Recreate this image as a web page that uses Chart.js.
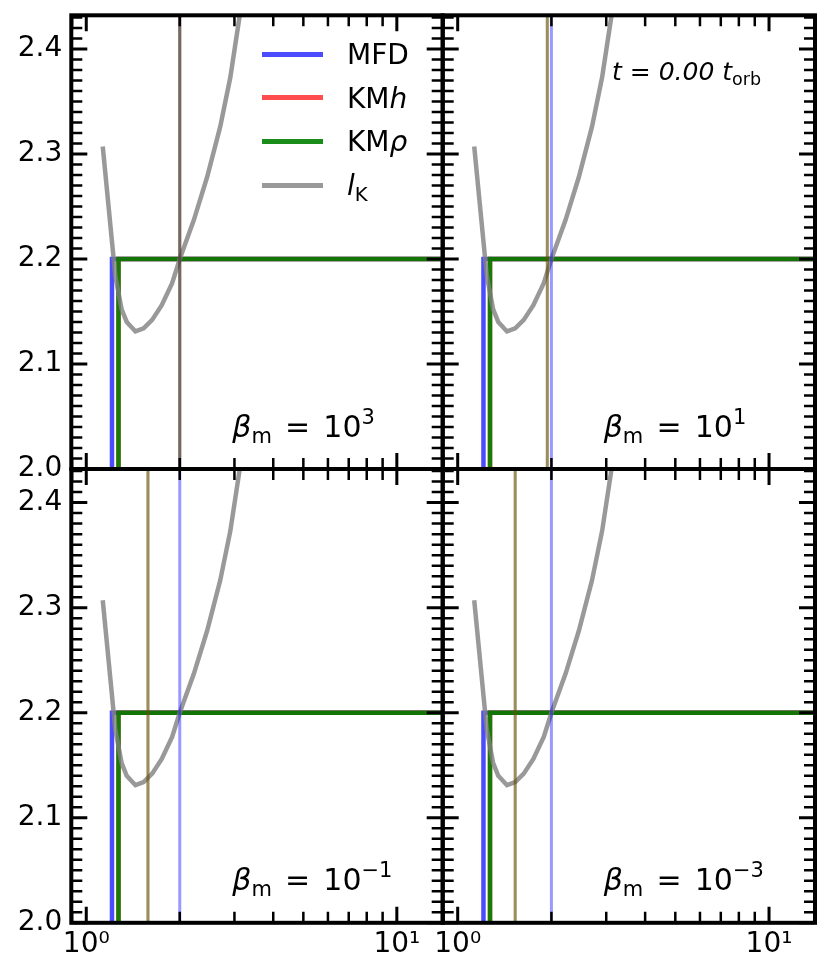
<!DOCTYPE html>
<html><head><meta charset="utf-8">
<script src="https://cdn.jsdelivr.net/npm/chart.js@4"></script>
<style>
html,body{margin:0;padding:0;background:#fff;width:830px;height:979px;overflow:hidden}
canvas{position:absolute;left:0;top:0}
.txt{position:absolute;font-family:'DejaVu Sans';color:#000;white-space:nowrap;line-height:1}
.txt sup,.txt sub{line-height:0;font-size:0.7em}
.leg{position:absolute}
</style></head><body>
<canvas id="c0" width="830" height="979"></canvas>
<canvas id="c1" width="830" height="979"></canvas>
<canvas id="c2" width="830" height="979"></canvas>
<canvas id="c3" width="830" height="979"></canvas>
<div id="overlay"></div>
<script>
// ---------------- data ----------------
const xLimits = [0.895, 14.05];
const yLimits = [2.0, 2.432];
const yMajorTicks = [2.0, 2.1, 2.2, 2.3, 2.4];
const xMajorTicks = [1, 10];
const xMinorTicks = [0.9, 2, 3, 4, 5, 6, 7, 8, 9];
const xTickLabels = ['10\u2070', '10\u00B9'];

// Keplerian angular momentum curve l_K
const lkR = [1.13, 1.24, 1.30, 1.35, 1.44, 1.53, 1.63, 1.75, 1.89, 2.00, 2.22, 2.45, 2.70, 2.91, 3.12];
const lkL = [2.307, 2.184, 2.152, 2.140, 2.131, 2.134, 2.142, 2.156, 2.177, 2.200, 2.237, 2.278, 2.326, 2.373, 2.432];

// constant angular momentum profiles
const plateauL = 2.2;
const innerL = 0.0;
const rInMFD = 1.21;
const rInKMh = 1.27;
const rInKMrho = 1.27;

// vertical marker positions, one per panel
const rMarkMFD = [2.0, 2.0, 2.0, 2.0];
const rMarkKMh = [2.0, 1.94, 1.58, 1.53];
const rMarkKMrho = [2.0, 1.94, 1.58, 1.53];

const betaExponents = ['3', '1', '\u22121', '\u22123'];
const timeLabel = '0.00';

// ---------------- styles ----------------
const colMFD = 'rgba(0,0,255,0.7)';
const colKMh = 'rgba(255,0,0,0.7)';
const colKMrho = 'rgba(0,128,0,0.9)';
const colLK = 'rgba(128,128,128,0.8)';
const colMarkMFD = 'rgba(0,0,255,0.4)';
const colMarkKMh = 'rgba(255,0,0,0.4)';
const colMarkKMrho = 'rgba(0,128,0,0.4)';

const FONT = 'DejaVu Sans';
const TICKFS = 28;
const W = 830, H = 979;
const geo = [
  {L: 71.3, R: 442.7, T: 15.3, B: 469},
  {L: 442.7, R: 815, T: 15.3, B: 469},
  {L: 71.3, R: 442.7, T: 469, B: 922.8},
  {L: 442.7, R: 815, T: 469, B: 922.8}
];
const YW = 60, XH = 50;
const MAJ = 16, MIN = 11;

const yMinorTicks = [];
for (let i = 0; i <= 43; i++) { if (i % 10) yMinorTicks.push(2.0 + i / 100); }

const mplFrame = {
  id: 'mplFrame',
  afterDraw(chart) {
    const {ctx, chartArea: a} = chart;
    const xs = chart.scales.x, ys = chart.scales.y;
    ctx.save();
    ctx.strokeStyle = '#000';
    ctx.lineCap = 'butt';
    const seg = (x1, y1, x2, y2) => { ctx.moveTo(x1, y1); ctx.lineTo(x2, y2); };
    const drawSet = (yv, xv, len, lw) => {
      ctx.lineWidth = lw;
      ctx.beginPath();
      for (const v of yv) {
        const p = ys.getPixelForValue(v);
        if (p < a.top - 1 || p > a.bottom + 1) continue;
        seg(a.left, p, a.left + len, p); seg(a.right, p, a.right - len, p);
      }
      for (const v of xv) {
        const p = xs.getPixelForValue(v);
        if (p < a.left - 1 || p > a.right + 1) continue;
        seg(p, a.top, p, a.top + len); seg(p, a.bottom, p, a.bottom - len);
      }
      ctx.stroke();
    };
    drawSet(yMinorTicks, xMinorTicks, MIN, 2.5);
    drawSet(yMajorTicks, xMajorTicks, MAJ, 3);
    ctx.lineWidth = 4;
    ctx.strokeRect(a.left, a.top, a.right - a.left, a.bottom - a.top);
    ctx.restore();
  }
};

function stepData(rIn) {
  return [{x: xLimits[0] * 0.9, y: innerL}, {x: rIn, y: innerL}, {x: rIn, y: plateauL}, {x: xLimits[1] * 1.1, y: plateauL}];
}
function vline(r) { return [{x: r, y: yLimits[0]}, {x: r, y: yLimits[1]}]; }
function noPad(s) { s.paddingTop = 0; s.paddingBottom = 0; s.paddingLeft = 0; s.paddingRight = 0; }

function makeChart(i) {
  const g = geo[i];
  const isLeft = (i % 2 === 0), isBottom = (i >= 2);
  const line = (data, color, width, order) => ({
    data, borderColor: color, borderWidth: width, pointRadius: 0, tension: 0, order,
    fill: false, borderCapStyle: 'butt', borderJoinStyle: 'miter'
  });
  new Chart(document.getElementById('c' + i), {
    type: 'line',
    data: {
      datasets: [
        line(vline(rMarkKMrho[i]), colMarkKMrho, 3, 1),
        line(vline(rMarkKMh[i]), colMarkKMh, 3, 2),
        line(vline(rMarkMFD[i]), colMarkMFD, 3, 3),
        line(lkR.map((r, k) => ({x: r, y: lkL[k]})), colLK, 4.5, 4),
        line(stepData(rInKMrho), colKMrho, 4.5, 5),
        line(stepData(rInKMh), colKMh, 4.5, 6),
        line(stepData(rInMFD), colMFD, 4.5, 7)
      ]
    },
    options: {
      responsive: false, animation: false, devicePixelRatio: 1,
      layout: {padding: {left: g.L - YW, right: W - g.R, top: g.T, bottom: H - g.B - XH}},
      plugins: {legend: {display: false}, tooltip: {enabled: false}},
      scales: {
        x: {
          type: 'logarithmic', min: xLimits[0], max: xLimits[1],
          afterFit: s => { s.height = XH; noPad(s); },
          afterBuildTicks: s => { s.ticks = xMajorTicks.map(v => ({value: v})); },
          grid: {display: false, drawTicks: false}, border: {display: false},
          ticks: {display: isBottom, autoSkip: false, maxRotation: 0, padding: 5, color: '#000',
            font: {family: FONT, size: TICKFS},
            callback: (v) => xTickLabels[xMajorTicks.indexOf(v)] ?? ''}
        },
        y: {
          type: 'linear', min: yLimits[0], max: yLimits[1],
          afterFit: s => { s.width = YW; noPad(s); },
          afterBuildTicks: s => { s.ticks = yMajorTicks.map(v => ({value: v})); },
          grid: {display: false, drawTicks: false}, border: {display: false},
          ticks: {display: isLeft, autoSkip: false, padding: 9, color: '#000',
            font: {family: FONT, size: TICKFS},
            callback: (v) => v.toFixed(1)}
        }
      }
    },
    plugins: [mplFrame]
  });
}
for (let i = 0; i < 4; i++) makeChart(i);

// ---------------- overlay text ----------------
const ov = document.getElementById('overlay');
function addText(html, left, baseline, fs) {
  const d = document.createElement('div');
  d.className = 'txt';
  d.style.fontSize = fs + 'px';
  d.style.left = left + 'px';
  d.style.top = (baseline - 0.846 * fs) + 'px';
  d.innerHTML = html;
  ov.appendChild(d);
}
const ANN = 30;
geo.forEach((g, i) => {
  addText('<i>β</i><sub style="vertical-align:-6px">m</sub><span style="margin:0 0.12em"> = </span>10<sup style="vertical-align:13px">' + betaExponents[i] + '</sup>',
    g.L + 161, g.B - 32, ANN);
});
addText('<i>t</i> = <i>' + timeLabel + '</i> <i>t</i><sub style="vertical-align:-5px">orb</sub>', 612, 80, 25);

// legend
const legendItems = [
  {label: 'MFD', color: colMFD},
  {label: 'KM<i>h</i>', color: colKMh},
  {label: 'KM<i>ρ</i>', color: colKMrho},
  {label: '<i>l</i><sub style="vertical-align:-6px">K</sub>', color: colLK}
];
const legY = [54, 97.5, 141, 185];
legendItems.forEach((it, k) => {
  const h = document.createElement('div');
  h.className = 'leg';
  h.style.left = '262px'; h.style.width = '61px';
  h.style.top = (legY[k] - 2.5) + 'px'; h.style.height = '5px';
  h.style.background = it.color;
  ov.appendChild(h);
  addText(it.label, 347, legY[k] + 11, 28);
});
</script>
</body></html>
